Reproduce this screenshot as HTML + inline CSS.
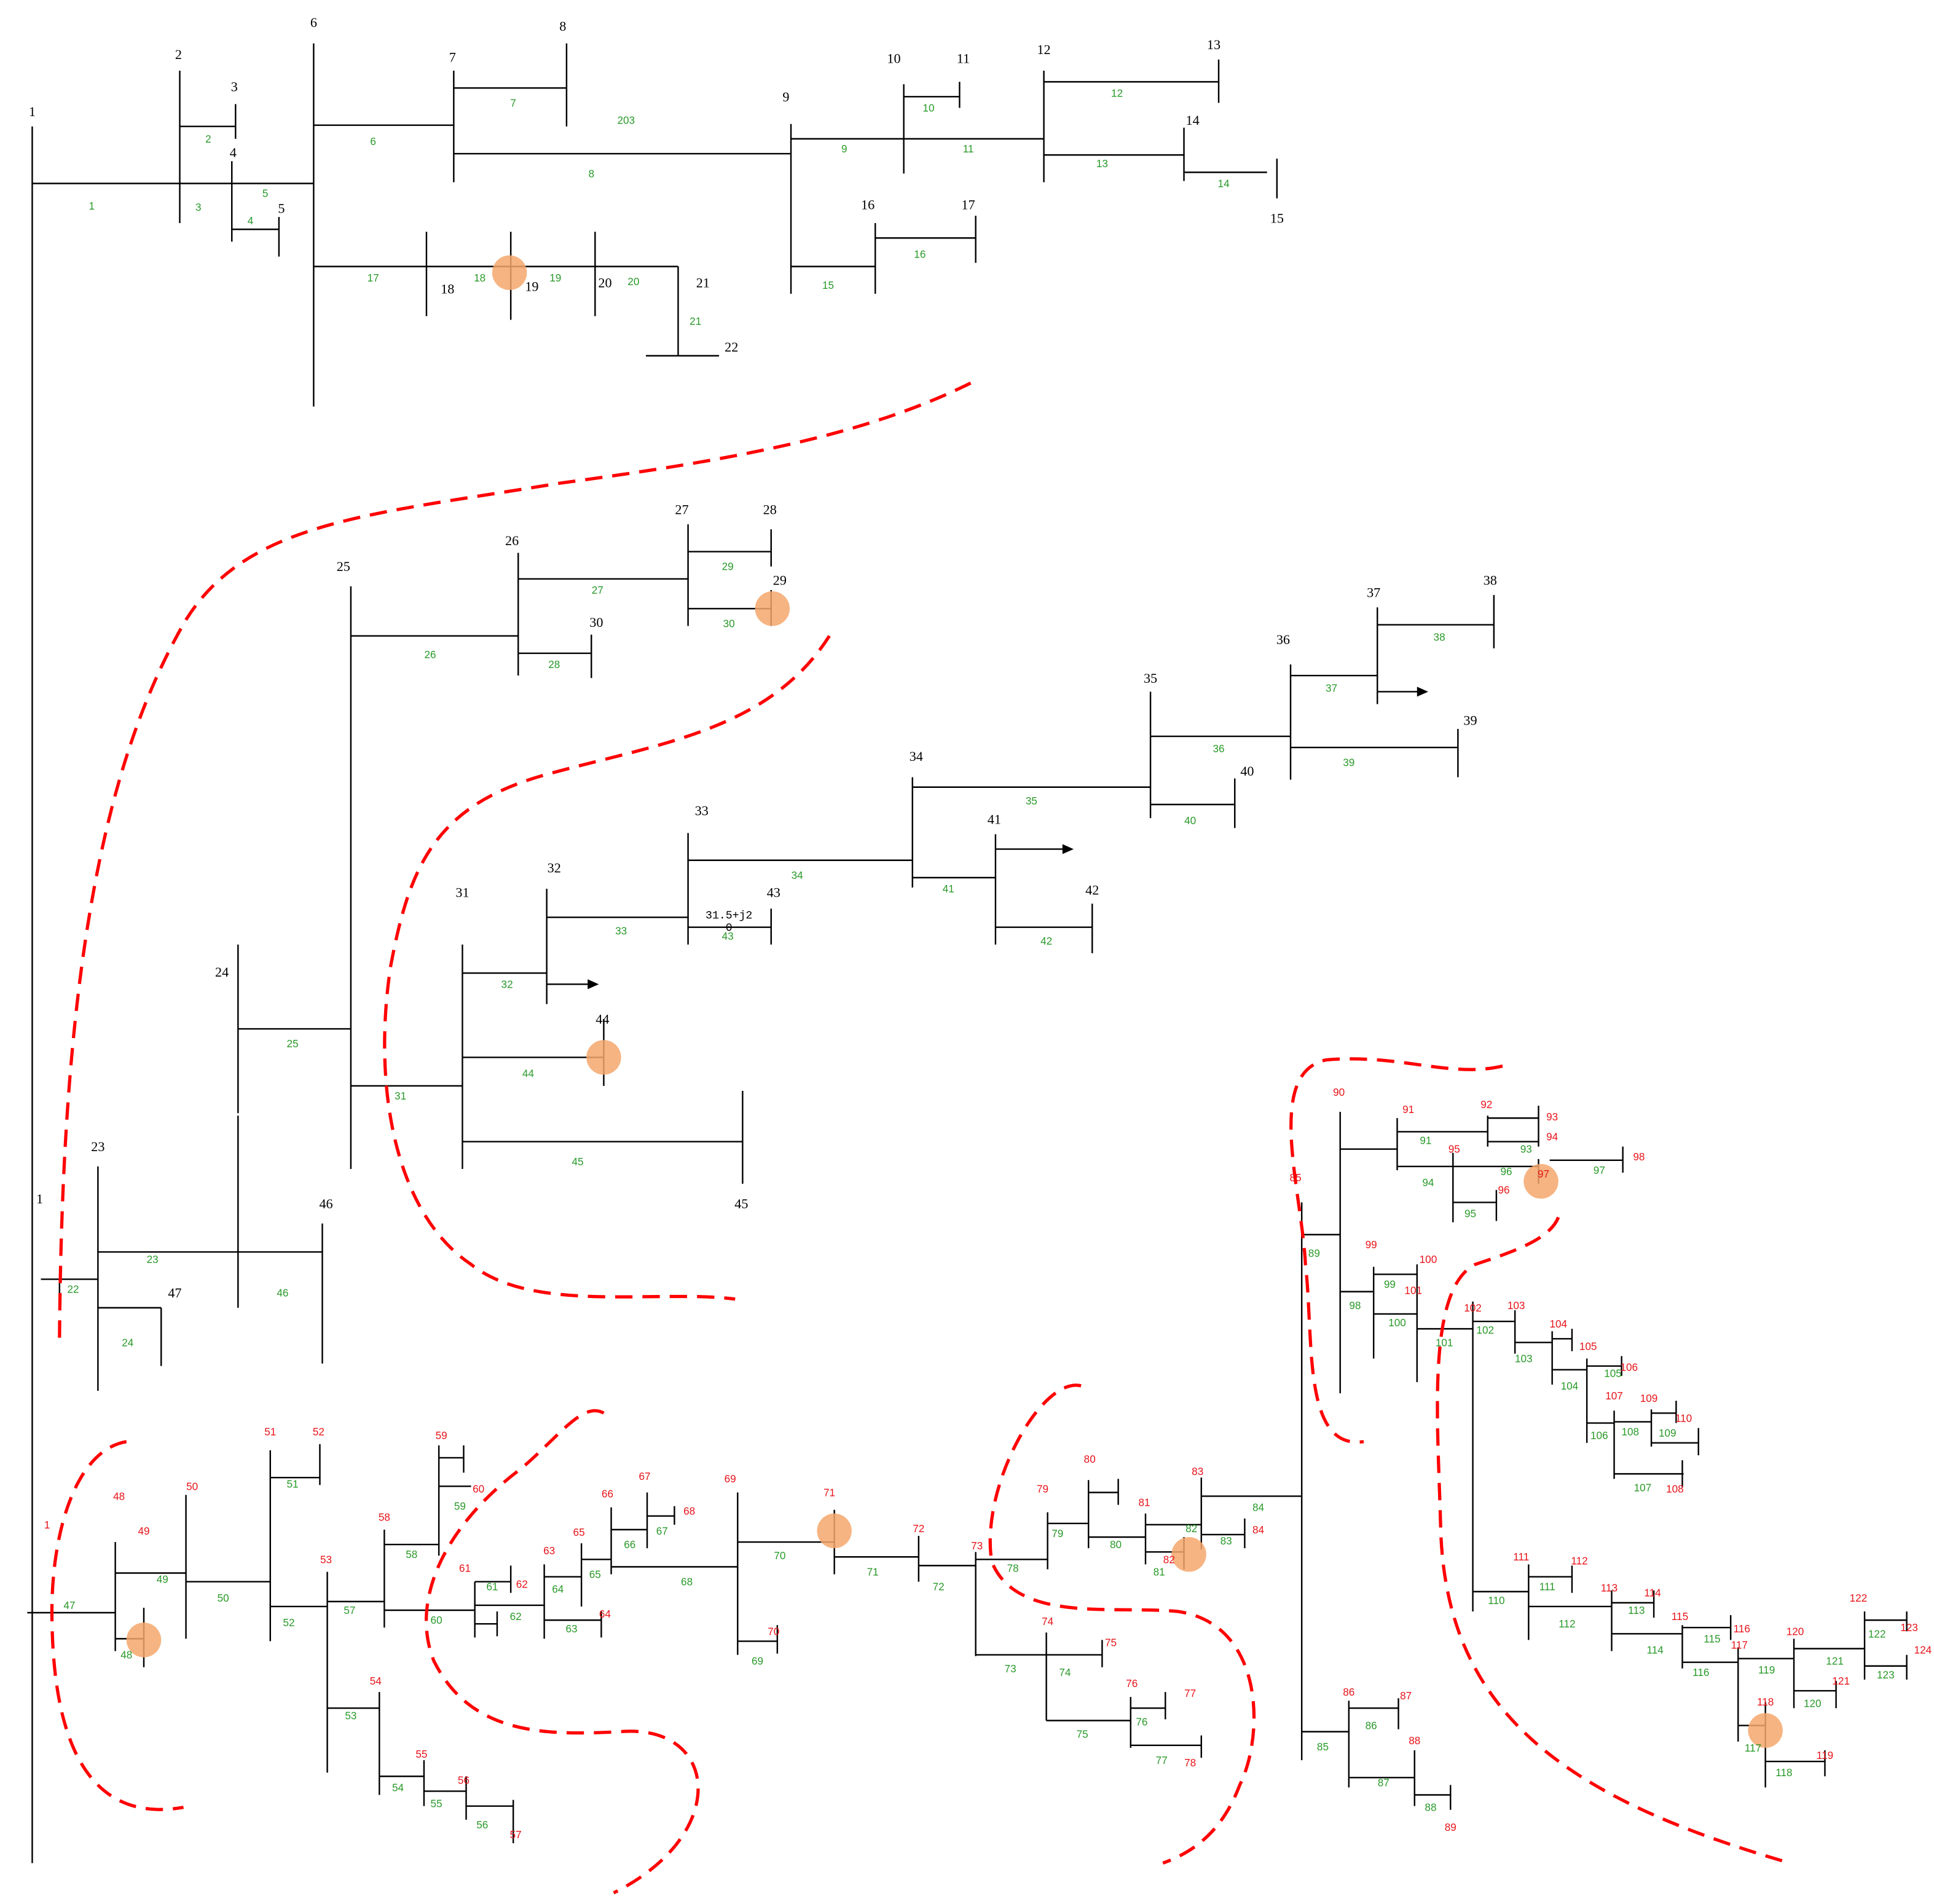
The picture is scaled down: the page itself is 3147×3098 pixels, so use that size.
<!DOCTYPE html>
<html><head><meta charset="utf-8"><style>
html,body{margin:0;padding:0;background:#fff;}
svg{display:block}
.b{font-family:"Liberation Serif",serif;font-size:11px;fill:#000}
.g{font-family:"Liberation Sans",sans-serif;font-size:8.5px;fill:#2a9a2a}
.r{font-family:"Liberation Sans",sans-serif;font-size:8.5px;fill:#e8141a}
.s{font-family:"Liberation Mono",monospace;font-size:9px;fill:#000}
text{text-anchor:middle;dominant-baseline:central}
</style></head><body>
<svg width="3147" height="3098" viewBox="0 0 1560 1536" preserveAspectRatio="none" xmlns="http://www.w3.org/2000/svg">
<rect width="1560" height="1536" fill="#fff"/>
<g stroke="#000" stroke-width="1.2" fill="none">
<path d="M26 102V1503 M26 148H253 M145 57V180 M145 102H190 M190 84V112 M187 130V195 M187 185H225 M225 175V207
M253 35V328 M253 101H366 M366 57V147 M366 71H457 M457 35V102 M366 124H638 M638 100V237 M638 112H842
M729 68V140 M729 78H774 M774 66V87 M842 57V147 M842 66H983 M983 48V83 M842 125H955 M955 103V146 M955 139H1022 M1030 128V160
M638 215H706 M706 180V237 M706 192H787 M787 174V212 M253 215H547 M344 187V255 M412 187V258 M480 187V255 M547 215V287 M521 287H580
M283 473V943 M283 513H418 M418 446V545 M418 467H555 M555 423V505 M418 527H477 M477 512V547 M555 445H622 M622 427V457 M555 491H622 M622 476V505
M928 558V660 M736 635H928 M736 627V716 M928 594H1041 M1041 536V629 M1041 545H1111 M1111 490V568 M1111 558H1145 M1111 504H1205 M1205 480V523
M1041 603H1176 M1176 588V627 M928 649H996 M996 628V668 M555 694H736 M555 672V762 M736 708H803 M803 673V762 M803 685H860 M803 748H881 M881 729V769
M441 740H555 M441 717V810 M555 748H622 M622 733V762 M441 794H476 M373 762V943 M373 785H441 M373 853H487 M487 822V876 M373 921H599 M599 880V955
M283 876H373 M192 830H283 M192 762V898 M192 900V1055 M79 1010H260 M79 941V1122 M260 987V1100 M79 1055H130 M130 1055V1102 M33 1032H79 M48 1032V1045
M22 1301H93 M93 1244V1332 M93 1322H116 M116 1297V1345 M93 1269H150 M150 1206V1322 M150 1276H218 M218 1170V1324 M218 1192H258 M258 1165V1198
M218 1296H264 M264 1268V1430 M264 1378H306 M306 1365V1448 M306 1433H342 M342 1420V1457 M342 1445H376 M376 1433V1468 M376 1457H414 M414 1452V1487
M264 1292H310 M310 1234V1313 M310 1246H354 M354 1166V1255 M354 1176H374 M374 1166V1188 M354 1199H380 M310 1299H383 M383 1276V1321 M383 1276H412 M412 1263V1285
M383 1295H439 M383 1310H401 M401 1300V1320 M439 1262V1322 M439 1307H485 M485 1300V1321 M439 1272H469 M469 1245V1296 M469 1258H493 M493 1216V1270
M493 1234H522 M522 1204V1249 M522 1223H544 M544 1215V1230 M493 1264H595 M595 1204V1335 M595 1324H627 M627 1311V1334 M595 1244H673 M673 1218V1270
M673 1256H741 M741 1239V1276 M741 1263H787 M787 1252V1336 M787 1335H844 M844 1317V1388 M844 1335H889 M889 1323V1345 M844 1388H912 M912 1369V1410
M912 1378H940 M940 1365V1387 M912 1408H969 M969 1400V1418 M787 1258H845 M845 1220V1266 M845 1229H878 M878 1194V1249 M878 1204H902 M902 1193V1214
M878 1240H924 M924 1221V1262 M924 1230H969 M969 1192V1250 M955 1240V1266 M924 1252H955 M969 1238H1004 M1004 1225V1249 M969 1207H1050 M1050 970V1420
M1050 1397H1088 M1088 1372V1442 M1088 1378H1128 M1128 1370V1395 M1088 1434H1141 M1141 1412V1457 M1141 1448H1170 M1170 1440V1460
M1050 996H1081 M1081 897V1124 M1081 927H1127 M1127 902V944 M1127 913H1200 M1200 900V925 M1200 902H1241 M1200 921H1241 M1241 892V925
M1127 941H1241 M1172 930V986 M1172 970H1207 M1207 960V985 M1241 935V955 M1250 936H1309 M1309 925V946
M1081 1042H1108 M1108 1022V1096 M1108 1028H1143 M1143 1020V1115 M1108 1060H1143 M1143 1072H1188 M1188 1050V1300 M1188 1066H1222 M1222 1057V1092
M1222 1083H1252 M1252 1074V1117 M1252 1080H1268 M1268 1072V1090 M1252 1105H1280 M1280 1096V1164 M1280 1102H1308 M1308 1094V1110
M1280 1148H1302 M1302 1138V1193 M1302 1147H1332 M1332 1137V1167 M1332 1140H1352 M1352 1130V1148 M1332 1164H1370 M1370 1152V1174 M1302 1189H1358 M1357 1178V1200
M1188 1284H1233 M1233 1262V1323 M1233 1272H1268 M1268 1263V1285 M1233 1296H1300 M1300 1283V1332 M1300 1293H1334 M1334 1283V1305 M1300 1318H1357 M1357 1311V1346
M1357 1313H1396 M1396 1303V1323 M1357 1341H1402 M1402 1329V1405 M1402 1338H1447 M1447 1322V1378 M1447 1364H1481 M1481 1356V1378 M1447 1330H1504 M1504 1300V1355
M1504 1307H1538 M1538 1300V1316 M1504 1344H1538 M1538 1335V1355 M1402 1392H1424 M1424 1373V1442 M1424 1421H1472 M1472 1412V1433"/>
</g>
<g fill="#000"><path d="M1143 554L1152 558L1143 562Z"/><path d="M857 681L866 685L857 689Z"/><path d="M474 790L483 794L474 798Z"/></g>
<g fill="#f5a76c" fill-opacity="0.85">
<circle cx="411" cy="220" r="14"/><circle cx="623" cy="491" r="14"/><circle cx="487" cy="853" r="14"/><circle cx="116" cy="1323" r="14"/>
<circle cx="673" cy="1235" r="14"/><circle cx="959" cy="1254" r="14"/><circle cx="1243" cy="953" r="14"/><circle cx="1424" cy="1396" r="14"/>
</g>
<g stroke="#f00" stroke-width="2.6" fill="none" stroke-dasharray="14 8">
<path d="M783 309C700 350 600 370 450 390C300 415 200 420 150 500C80 620 50 800 48 1080"/>
<path d="M669 513C620 590 530 600 440 625C350 650 330 700 315 780C300 880 320 980 380 1020C430 1060 530 1040 593 1048"/>
<path d="M102 1163C60 1170 40 1240 42 1310C44 1420 80 1470 148 1458"/>
<path d="M487 1140C470 1130 450 1160 420 1185C360 1230 330 1290 350 1340C380 1400 440 1400 500 1397C580 1390 590 1480 495 1527"/>
<path d="M872 1118C840 1110 790 1200 800 1260C820 1310 900 1295 950 1300C1020 1310 1020 1400 1000 1440C985 1480 960 1495 938 1503"/>
<path d="M1212 860C1170 870 1130 850 1070 855C1020 865 1050 960 1053 1020C1060 1080 1050 1170 1100 1163"/>
<path d="M1257 982C1250 1000 1220 1010 1190 1020C1150 1040 1160 1150 1162 1230C1165 1380 1260 1450 1444 1503"/>
</g>
<g class="b">
<text x="26" y="90">1</text><text x="144" y="44">2</text><text x="189" y="70">3</text><text x="188" y="123">4</text><text x="227" y="168">5</text>
<text x="253" y="18">6</text><text x="365" y="46">7</text><text x="454" y="21">8</text><text x="634" y="78">9</text><text x="721" y="47">10</text>
<text x="777" y="47">11</text><text x="842" y="40">12</text><text x="979" y="36">13</text><text x="962" y="97">14</text><text x="1030" y="176">15</text>
<text x="700" y="165">16</text><text x="781" y="165">17</text><text x="361" y="233">18</text><text x="429" y="231">19</text><text x="488" y="228">20</text>
<text x="567" y="228">21</text><text x="590" y="280">22</text><text x="79" y="925">23</text><text x="179" y="784">24</text><text x="277" y="457">25</text>
<text x="413" y="436">26</text><text x="550" y="411">27</text><text x="621" y="411">28</text><text x="629" y="468">29</text><text x="481" y="502">30</text>
<text x="373" y="720">31</text><text x="447" y="700">32</text><text x="566" y="654">33</text><text x="739" y="610">34</text><text x="928" y="547">35</text>
<text x="1035" y="516">36</text><text x="1108" y="478">37</text><text x="1202" y="468">38</text><text x="1186" y="581">39</text><text x="1006" y="622">40</text>
<text x="802" y="661">41</text><text x="881" y="718">42</text><text x="624" y="720">43</text><text x="486" y="822">44</text><text x="598" y="971">45</text>
<text x="263" y="971">46</text><text x="141" y="1043">47</text><text x="32" y="967">1</text>
</g>
<text class="s" x="588" y="739">31.5+j2</text><text class="s" x="588" y="749">0</text>
<g class="g">
<text x="74" y="166">1</text><text x="168" y="112">2</text><text x="160" y="167">3</text><text x="202" y="178">4</text><text x="214" y="156">5</text>
<text x="301" y="114">6</text><text x="414" y="83">7</text><text x="477" y="140">8</text><text x="505" y="97">203</text><text x="681" y="120">9</text>
<text x="749" y="87">10</text><text x="781" y="120">11</text><text x="901" y="75">12</text><text x="889" y="132">13</text><text x="987" y="148">14</text>
<text x="668" y="230">15</text><text x="742" y="205">16</text><text x="301" y="224">17</text><text x="387" y="224">18</text><text x="448" y="224">19</text>
<text x="511" y="227">20</text><text x="561" y="259">21</text><text x="59" y="1040">22</text><text x="123" y="1016">23</text><text x="103" y="1083">24</text>
<text x="236" y="842">25</text><text x="347" y="528">26</text><text x="482" y="476">27</text><text x="447" y="536">28</text><text x="587" y="457">29</text>
<text x="588" y="503">30</text><text x="323" y="884">31</text><text x="409" y="794">32</text><text x="501" y="751">33</text><text x="643" y="706">34</text>
<text x="832" y="646">35</text><text x="983" y="604">36</text><text x="1074" y="555">37</text><text x="1161" y="514">38</text><text x="1088" y="615">39</text>
<text x="960" y="662">40</text><text x="765" y="717">41</text><text x="844" y="759">42</text><text x="587" y="755">43</text><text x="426" y="866">44</text>
<text x="466" y="937">45</text><text x="228" y="1043">46</text>
<text x="56" y="1295">47</text><text x="102" y="1335">48</text><text x="131" y="1274">49</text><text x="180" y="1289">50</text><text x="236" y="1197">51</text>
<text x="233" y="1309">52</text><text x="283" y="1384">53</text><text x="321" y="1442">54</text><text x="352" y="1455">55</text><text x="389" y="1472">56</text>
<text x="282" y="1299">57</text><text x="332" y="1254">58</text><text x="371" y="1215">59</text><text x="352" y="1307">60</text><text x="397" y="1280">61</text>
<text x="416" y="1304">62</text><text x="461" y="1314">63</text><text x="450" y="1282">64</text><text x="480" y="1270">65</text><text x="508" y="1246">66</text>
<text x="534" y="1235">67</text><text x="554" y="1276">68</text><text x="611" y="1340">69</text><text x="629" y="1255">70</text><text x="704" y="1268">71</text>
<text x="757" y="1280">72</text><text x="815" y="1346">73</text><text x="859" y="1349">74</text><text x="873" y="1399">75</text><text x="921" y="1389">76</text>
<text x="937" y="1420">77</text><text x="817" y="1265">78</text><text x="853" y="1237">79</text><text x="900" y="1246">80</text><text x="935" y="1268">81</text>
<text x="961" y="1233">82</text><text x="989" y="1243">83</text><text x="1015" y="1216">84</text><text x="1067" y="1409">85</text><text x="1106" y="1392">86</text>
<text x="1116" y="1438">87</text><text x="1154" y="1458">88</text><text x="1060" y="1011">89</text><text x="1150" y="920">91</text><text x="1231" y="927">93</text>
<text x="1152" y="954">94</text><text x="1186" y="979">95</text><text x="1215" y="945">96</text><text x="1290" y="944">97</text><text x="1093" y="1053">98</text>
<text x="1121" y="1036">99</text><text x="1127" y="1067">100</text><text x="1165" y="1083">101</text><text x="1198" y="1073">102</text><text x="1229" y="1096">103</text>
<text x="1266" y="1118">104</text><text x="1301" y="1108">105</text><text x="1290" y="1158">106</text><text x="1325" y="1200">107</text><text x="1315" y="1155">108</text>
<text x="1345" y="1156">109</text><text x="1207" y="1291">110</text><text x="1248" y="1280">111</text><text x="1264" y="1310">112</text><text x="1320" y="1299">113</text>
<text x="1335" y="1331">114</text><text x="1381" y="1322">115</text><text x="1372" y="1349">116</text><text x="1414" y="1410">117</text><text x="1439" y="1430">118</text>
<text x="1425" y="1347">119</text><text x="1462" y="1374">120</text><text x="1480" y="1340">121</text><text x="1514" y="1318">122</text><text x="1521" y="1351">123</text>
</g>
<g class="r">
<text x="38" y="1230">1</text><text x="96" y="1207">48</text><text x="116" y="1235">49</text><text x="155" y="1199">50</text><text x="218" y="1155">51</text>
<text x="257" y="1155">52</text><text x="263" y="1258">53</text><text x="303" y="1356">54</text><text x="340" y="1415">55</text><text x="374" y="1436">56</text>
<text x="416" y="1480">57</text><text x="310" y="1224">58</text><text x="356" y="1158">59</text><text x="386" y="1201">60</text><text x="375" y="1265">61</text>
<text x="421" y="1278">62</text><text x="443" y="1251">63</text><text x="488" y="1302">64</text><text x="467" y="1236">65</text><text x="490" y="1205">66</text>
<text x="520" y="1191">67</text><text x="556" y="1219">68</text><text x="589" y="1193">69</text><text x="624" y="1316">70</text><text x="669" y="1204">71</text>
<text x="741" y="1233">72</text><text x="788" y="1247">73</text><text x="845" y="1308">74</text><text x="896" y="1325">75</text><text x="913" y="1358">76</text>
<text x="960" y="1366">77</text><text x="960" y="1422">78</text><text x="841" y="1201">79</text><text x="879" y="1177">80</text><text x="923" y="1212">81</text>
<text x="943" y="1258">82</text><text x="966" y="1187">83</text><text x="1015" y="1234">84</text><text x="1045" y="950">85</text><text x="1088" y="1365">86</text>
<text x="1134" y="1368">87</text><text x="1141" y="1404">88</text><text x="1170" y="1474">89</text><text x="1080" y="881">90</text><text x="1136" y="895">91</text>
<text x="1199" y="891">92</text><text x="1252" y="901">93</text><text x="1252" y="917">94</text><text x="1173" y="927">95</text><text x="1213" y="960">96</text>
<text x="1245" y="947">97</text><text x="1322" y="933">98</text><text x="1106" y="1004">99</text><text x="1152" y="1016">100</text><text x="1140" y="1041">101</text>
<text x="1188" y="1055">102</text><text x="1223" y="1053">103</text><text x="1257" y="1068">104</text><text x="1281" y="1086">105</text><text x="1314" y="1103">106</text>
<text x="1302" y="1126">107</text><text x="1351" y="1201">108</text><text x="1330" y="1128">109</text><text x="1358" y="1144">110</text><text x="1227" y="1256">111</text>
<text x="1274" y="1259">112</text><text x="1298" y="1281">113</text><text x="1333" y="1285">114</text><text x="1355" y="1304">115</text><text x="1405" y="1314">116</text>
<text x="1403" y="1327">117</text><text x="1424" y="1373">118</text><text x="1472" y="1416">119</text><text x="1448" y="1316">120</text><text x="1485" y="1356">121</text>
<text x="1499" y="1289">122</text><text x="1540" y="1313">123</text><text x="1551" y="1331">124</text>
</g>
</svg>
</body></html>
